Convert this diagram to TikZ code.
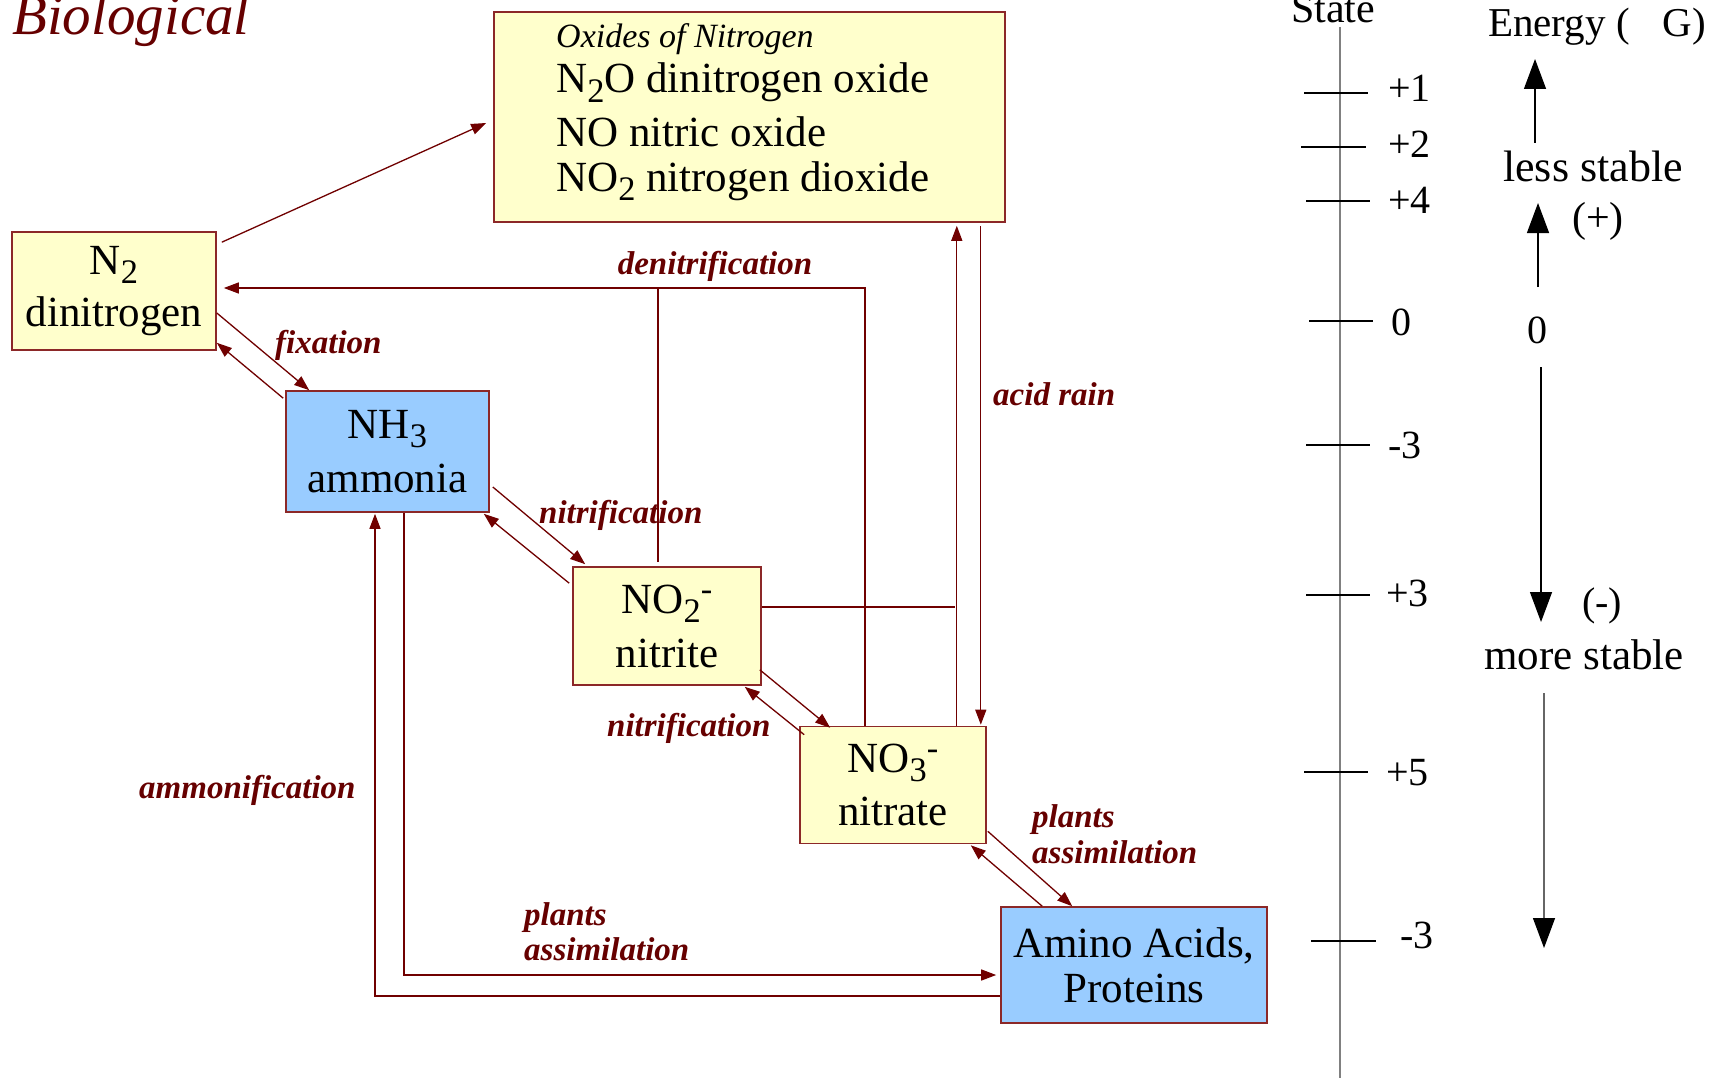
\documentclass[tikz,border=0pt]{standalone}
\usepackage{fontspec}
\setmainfont{Liberation Serif}
\usepackage{graphicx}
\usetikzlibrary{arrows.meta,calc}
\definecolor{boxred}{RGB}{140,40,40}
\definecolor{conred}{RGB}{112,0,0}
\definecolor{labred}{RGB}{102,0,0}
\definecolor{boxyel}{RGB}{255,255,204}
\definecolor{boxblue}{RGB}{153,204,255}
\newcommand\chsub[1]{\raisebox{-0.22em}{\scalebox{0.8}{#1}}}
\newcommand\chsup[1]{\raisebox{0.30em}{\scalebox{0.8}{#1}}}
\begin{document}
\begin{tikzpicture}[x=1pt,y=-1pt,
  box/.style={draw=boxred, line width=1.6pt, rectangle, inner sep=0pt, align=center},
  yelbox/.style={box, fill=boxyel},
  bluebox/.style={box, fill=boxblue},
  conn/.style={draw=conred, line width=1.3pt, -{Triangle[length=15pt,width=11pt]}},
  plainconn/.style={draw=conred, line width=1.3pt},
  lab/.style={text=labred, font=\fontsize{33}{36}\selectfont\bfseries\itshape, inner sep=0pt, align=left},
  txt/.style={inner sep=0pt},
  tick/.style={draw=black, line width=1.2pt},
  bigarrow/.style={draw=black, line width=1.3pt, -{Triangle[length=30pt,width=22pt,color=black,fill=black]}},
]
\useasboundingbox (0,0) rectangle (1712,1078);
\fill[white] (0,0) rectangle (1712,1078);

% title
\node[txt, anchor=base west, text=labred, font=\fontsize{57}{60}\selectfont\itshape] (bio) at (12,35) {Biological};

% boxes
\node[yelbox, minimum width=511pt, minimum height=210pt] (ox) at (749.5,117) {};
\node[txt, anchor=base west, font=\fontsize{34}{36}\selectfont\itshape] (oxh) at (556,48) {Oxides of Nitrogen};
\node[txt, anchor=base west, font=\fontsize{43}{48}\selectfont] (ox1) at (556,93) {N\chsub{2}O dinitrogen oxide};
\node[txt, anchor=base west, font=\fontsize{43}{48}\selectfont] (ox2) at (556,147) {NO nitric oxide};
\node[txt, anchor=base west, font=\fontsize{43}{48}\selectfont] (ox3) at (556,191) {NO\chsub{2} nitrogen dioxide};

\node[yelbox, minimum width=204pt, minimum height=118pt, font=\fontsize{43}{52}\selectfont] (n2) at (114,291) {N\chsub{2}\\dinitrogen};
\node[bluebox, minimum width=203pt, minimum height=121pt, font=\fontsize{43}{54}\selectfont] (nh3) at (387.5,451.5) {NH\chsub{3}\\ammonia};
\node[yelbox, minimum width=188pt, minimum height=118pt, font=\fontsize{43}{54}\selectfont] (no2) at (667,626) {NO\chsub{2}\chsup{-}\\nitrite};
\node[yelbox, minimum width=186pt, minimum height=117pt, font=\fontsize{43}{53}\selectfont] (no3) at (893,785) {NO\chsub{3}\chsup{-}\\nitrate};
\node[bluebox, minimum width=266pt, minimum height=116pt, font=\fontsize{43}{45}\selectfont] (amino) at (1134,965) {Amino Acids,\\Proteins};

% connectors
\draw[conn] ($(n2.north east)+(5,11)$) -- ($(ox.west)+(-7,6)$);

\coordinate (dn) at (865,288);
\draw[conn] (no3.north -| dn) -- (dn) -- ($(n2.east |- dn)+(7,0)$);
\draw[plainconn] ($(no2.north)+(-9,-4)$) coordinate (dnb) -- (dnb |- dn);

\coordinate (ar) at ($(no3.north east)+(-30,0)$);
\draw[conn] (ar) -- ($(ox.south east)+(-49,3)$);
\draw[conn] ($(ox.south east)+(-25,3)$) -- ($(no3.north east)+(-6,-1)$);
\draw[plainconn] ($(no2.east)+(0,-19)$) coordinate (n2r) -- ($(n2r -| ar)+(-2,0)$);

\draw[conn] ($(n2.east)+(0,22)$) -- ($(nh3.north west)+(24,0)$);
\draw[conn] ($(nh3.north west)+(-2,8)$) -- ($(n2.south east)+(0,-8)$);

\draw[conn] ($(nh3.east)+(3,35.5)$) -- ($(no2.north west)+(13,-2)$);
\draw[conn] ($(no2.north west)+(-3,17)$) -- ($(nh3.south east)+(-6,1)$);

\draw[conn] ($(no2.south east)+(-2,-16)$) -- ($(no3.north west)+(31,2)$);
\draw[conn] ($(no3.north west)+(5,9)$) -- ($(no2.south east)+(-17,1)$);

\draw[conn] ($(no3.south east)+(1,-13)$) -- ($(amino.north west)+(72,0)$);
\draw[conn] ($(amino.north west)+(42,0)$) -- ($(no3.south east)+(-16,1)$);

\draw[conn] ($(nh3.south)+(16.5,0)$) |- ($(amino.west)+(-4,10)$);
\draw[conn] ($(amino.west)+(0,31)$) -| ($(nh3.south)+(-12.5,1)$);

% labels
\node[lab, anchor=base] (ldn) at (715,274) {denitrification};
\node[lab, anchor=base west] (lar) at (993,405) {acid rain};
\node[lab, anchor=base west] (lfx) at (275,353) {fixation};
\node[lab, anchor=base west] (lni1) at (539,523) {nitrification};
\node[lab, anchor=base west] (lni2) at (607,736) {nitrification};
\node[lab, anchor=base west] (lpa1) at (1032,827) {plants};
\node[lab, anchor=base west] (lpa1b) at (1032,863) {assimilation};
\node[lab, anchor=base west] (lpa2) at (524,925) {plants};
\node[lab, anchor=base west] (lpa2b) at (524,960) {assimilation};
\node[lab, anchor=base west] (lam) at (139,798) {ammonification};

% oxidation state axis
\node[txt, anchor=base, font=\fontsize{42}{44}\selectfont] (state) at (1333,23) {State};
\draw[draw=gray, line width=2pt] (1340,27) -- (1340,1078);
\draw[tick] (1304,93) -- (1368,93);
\draw[tick] (1301,147) -- (1366,147);
\draw[tick] (1306,201) -- (1370,201);
\draw[tick] (1309,321) -- (1373,321);
\draw[tick] (1306,445) -- (1370,445);
\draw[tick] (1306,595) -- (1370,595);
\draw[tick] (1304,772) -- (1368,772);
\draw[tick] (1311,941) -- (1376,941);
\begin{scope}[every node/.style={txt, anchor=west, font=\fontsize{40}{42}\selectfont}]
\node (s1) at (1388,88) {+1};
\node (s2) at (1388,144) {+2};
\node (s4) at (1388,200) {+4};
\node (s0) at (1391,322) {0};
\node (sm3) at (1388,445) {-3};
\node (s3) at (1386,593) {+3};
\node (s5) at (1386,773) {+5};
\node (sm3b) at (1400,935) {-3};
\end{scope}

% energy
\node[txt, anchor=base west, font=\fontsize{41}{44}\selectfont] (en) at (1488,37) {Energy (\hspace{33pt}G)};
\node[txt, anchor=base, font=\fontsize{44}{46}\selectfont] (less) at (1593,182) {less stable};
\node[txt, anchor=base west, font=\fontsize{42}{44}\selectfont] (plus) at (1572,231) {(+)};
\node[txt, anchor=center, font=\fontsize{40}{42}\selectfont] (ezero) at (1537,330) {0};
\node[txt, anchor=base west, font=\fontsize{40}{42}\selectfont] (minus) at (1582,615) {(-)};
\node[txt, anchor=base, font=\fontsize{43}{46}\selectfont] (more) at (1584,669) {more stable};

\coordinate (a1s) at (1535,143); \coordinate (a1e) at (1535,59);
\coordinate (a2s) at (1538,287); \coordinate (a2e) at (1538,203);
\coordinate (a3s) at (1541,367); \coordinate (a3e) at (1541,622);
\coordinate (a4s) at (1544,693); \coordinate (a4e) at (1544,948);
\draw[bigarrow] (a1s) -- (a1e);
\draw[bigarrow] (a2s) -- (a2e);
\draw[bigarrow] (a3s) -- (a3e);
\draw[bigarrow, draw=black!60] (a4s) -- (a4e);
\end{tikzpicture}
\end{document}
